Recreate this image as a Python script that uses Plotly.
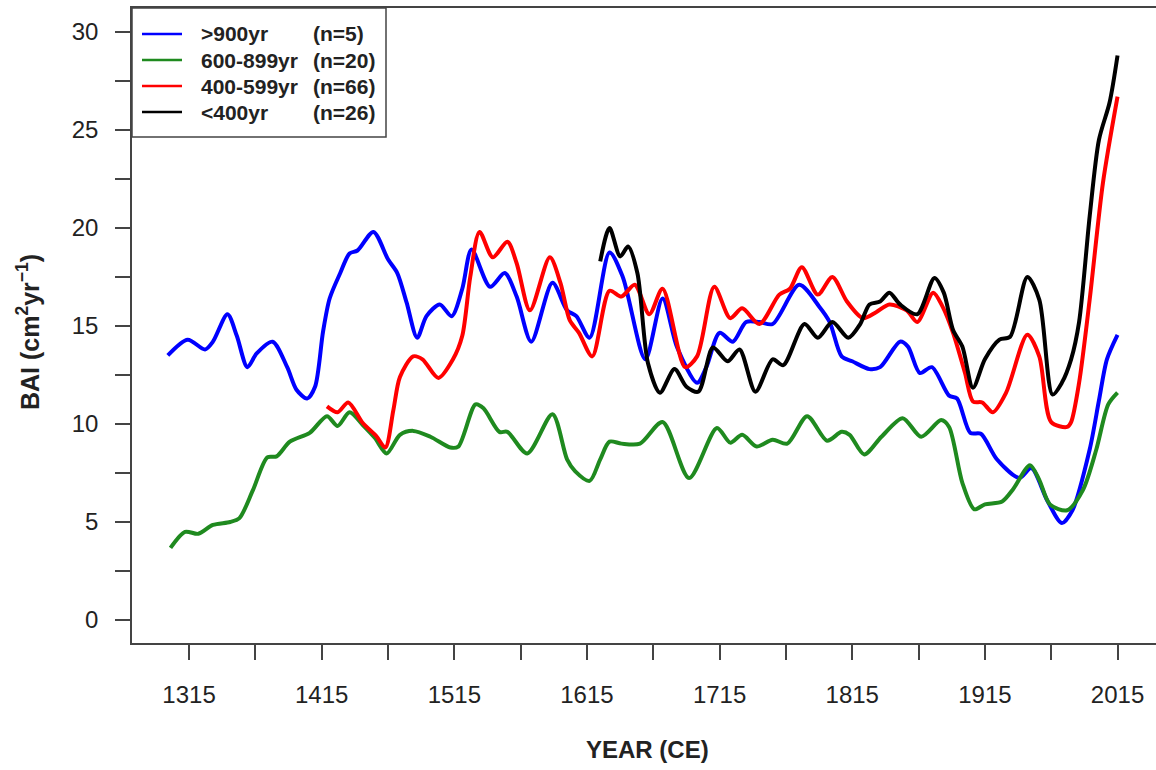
import plotly.graph_objects as go

# ---------------- data ----------------
blue_years = [1299, 1314, 1327, 1333, 1344, 1351, 1359, 1366, 1378, 1389, 1396, 1404, 1410, 1416, 1421,
              1429, 1436, 1442, 1454, 1465, 1472, 1479, 1487, 1494, 1504, 1513, 1521, 1528, 1542, 1553,
              1562, 1573, 1589, 1600, 1607, 1617, 1632, 1642, 1659, 1672, 1683, 1698, 1705, 1715, 1725,
              1735, 1745, 1755, 1775, 1790, 1798, 1807, 1815, 1828, 1836, 1851, 1857, 1866, 1875, 1888,
              1894, 1904, 1912, 1924, 1941, 1950, 1962, 1973, 1981, 1994, 2001, 2007, 2015]
blue_vals = [13.5, 14.3, 13.8, 14.2, 15.6, 14.5, 12.9, 13.6, 14.2, 12.9, 11.75, 11.3, 11.9, 14.7, 16.4,
             17.7, 18.7, 18.85, 19.8, 18.4, 17.7, 16.2, 14.4, 15.5, 16.1, 15.5, 16.9, 18.9, 17.0, 17.7,
             16.5, 14.2, 17.2, 15.8, 15.5, 14.4, 18.75, 17.5, 13.3, 16.4, 13.9, 12.1, 12.9, 14.65, 14.2,
             15.2, 15.2, 15.1, 17.1, 16.0, 15.2, 13.45, 13.2, 12.8, 12.9, 14.2, 13.95, 12.6, 12.9, 11.45,
             11.3, 9.55, 9.5, 8.2, 7.25, 7.75, 6.1, 4.95, 5.6, 8.7, 11.2, 13.3, 14.55]

green_years = [1301, 1312, 1322, 1333, 1346, 1353, 1363, 1374, 1381, 1391, 1406, 1419, 1427, 1436, 1446,
               1455, 1464, 1474, 1484, 1497, 1512, 1518, 1531, 1537, 1549, 1555, 1570, 1589, 1600, 1606,
               1617, 1625, 1632, 1641, 1655, 1672, 1692, 1713, 1723, 1732, 1743, 1755, 1766, 1781, 1796,
               1807, 1813, 1824, 1837, 1853, 1867, 1882, 1888, 1898, 1907, 1915, 1928, 1936, 1949, 1956,
               1964, 1977, 1989, 1999, 2008, 2015]
green_vals = [3.68, 4.5, 4.4, 4.85, 5.0, 5.2, 6.6, 8.3, 8.35, 9.1, 9.55, 10.4, 9.9, 10.6, 9.95,
              9.3, 8.5, 9.45, 9.65, 9.35, 8.8, 8.85, 11.0, 10.8, 9.6, 9.6, 8.5, 10.5, 8.2, 7.6,
              7.1, 8.2, 9.1, 9.0, 9.0, 10.1, 7.25, 9.8, 9.05, 9.45, 8.85, 9.2, 9.0, 10.4, 9.15,
              9.6, 9.45, 8.45, 9.35, 10.3, 9.35, 10.2, 9.85, 7.0, 5.65, 5.9, 6.05, 6.65, 7.9, 7.15,
              5.9, 5.6, 6.65, 8.7, 11.0, 11.6]

red_years = [1419, 1427, 1435, 1446, 1456, 1463, 1469, 1474, 1484, 1491, 1503, 1514, 1521, 1527, 1534,
             1544, 1555, 1562, 1572, 1587, 1595, 1602, 1609, 1619, 1632, 1641, 1651, 1662, 1672, 1689,
             1698, 1711, 1723, 1732, 1745, 1760, 1768, 1777, 1789, 1800, 1811, 1823, 1833, 1843, 1856,
             1864, 1876, 1883, 1891, 1900, 1906, 1913, 1921, 1931, 1947, 1956, 1965, 1977, 1980, 1986,
             1994, 2004, 2015]
red_vals = [10.9, 10.6, 11.1, 10.05, 9.4, 8.8, 10.7, 12.4, 13.45, 13.3, 12.35, 13.3, 14.5, 17.5, 19.8,
            18.5, 19.3, 18.2, 15.8, 18.5, 17.2, 15.3, 14.65, 13.45, 16.8, 16.5, 17.1, 15.6, 16.9, 12.9,
            13.45, 17.0, 15.4, 15.9, 15.1, 16.6, 16.9, 18.0, 16.6, 17.5, 16.25, 15.4, 15.7, 16.1, 15.8,
            15.2, 16.7, 16.0, 14.65, 12.6, 11.15, 11.1, 10.6, 11.6, 14.55, 13.45, 10.1, 9.85, 10.1, 12.1,
            16.35, 22.3, 26.7]

black_years = [1625, 1632, 1640, 1646, 1653, 1661, 1670, 1681, 1690, 1699, 1710, 1721, 1730, 1742, 1755,
               1763, 1779, 1789, 1800, 1812, 1821, 1828, 1836, 1843, 1851, 1864, 1877, 1884, 1891, 1898,
               1906, 1915, 1926, 1934, 1947, 1956, 1966, 1973, 1980, 1986, 1994, 2001, 2009, 2015]
black_vals = [18.3, 20.0, 18.55, 19.05, 17.7, 13.1, 11.6, 12.8, 11.9, 11.65, 13.9, 13.2, 13.8, 11.65, 13.3,
              13.0, 15.1, 14.4, 15.2, 14.4, 15.1, 16.1, 16.25, 16.7, 16.1, 15.6, 17.45, 16.7, 14.8, 13.95,
              11.85, 13.3, 14.3, 14.45, 17.5, 16.35, 11.5, 12.1, 13.3, 15.2, 20.6, 24.5, 26.4, 28.8]

series_names = [">900yr", "600-899yr", "400-599yr", "<400yr"]
series_n = ["(n=5)", "(n=20)", "(n=66)", "(n=26)"]
series_colors = ["#0000FF", "#1F8A1F", "#FF0000", "#000000"]

x_tick_vals = [1315, 1415, 1515, 1615, 1715, 1815, 1915, 2015]
y_tick_vals = [0, 5, 10, 15, 20, 25, 30]

# ---------------- figure ----------------
W, H = 1156, 770
L, R, T, B = 132, 0, 8, 127
PW, PH = W - L - R, H - T - B


def px(xp):
    return (xp - L) / PW


def py(yp):
    return (H - B - yp) / PH


fig = go.Figure()
all_series = [(blue_years, blue_vals), (green_years, green_vals),
              (red_years, red_vals), (black_years, black_vals)]
for (xs, ys), name, col in zip(all_series, series_names, series_colors):
    fig.add_trace(go.Scatter(x=xs, y=ys, mode="lines", name=name,
                             line=dict(color=col, width=4, shape="spline", smoothing=0.8),
                             showlegend=False))

font_family = "Liberation Sans, Arial, sans-serif"

fig.update_layout(
    width=W, height=H,
    margin=dict(l=L, r=R, t=T, b=B, pad=0),
    plot_bgcolor="white", paper_bgcolor="white",
    font=dict(family=font_family, color="#222222"),
    xaxis=dict(range=[1272, 2044], tickmode="array", tickvals=x_tick_vals,
               ticktext=[str(v) for v in x_tick_vals],
               ticks="outside", ticklen=15, tickwidth=1.5, tickcolor="#444",
               minor=dict(tickmode="linear", tick0=1265, dtick=50, ticks="outside",
                          ticklen=15, tickwidth=1.5, tickcolor="#444"),
               showline=True, linecolor="#444", linewidth=1.5, mirror=True,
               showgrid=False, zeroline=False,
               tickfont=dict(size=24, color="#222"), ticklabelstandoff=14),
    yaxis=dict(range=[-1.17, 31.22], tickmode="array", tickvals=y_tick_vals,
               ticktext=[str(v) for v in y_tick_vals],
               ticks="outside", ticklen=15, tickwidth=1.5, tickcolor="#444",
               minor=dict(tickmode="linear", tick0=0, dtick=2.5, ticks="outside",
                          ticklen=15, tickwidth=1.5, tickcolor="#444"),
               showline=True, linecolor="#444", linewidth=1.5, mirror=False,
               showgrid=False, zeroline=False,
               tickfont=dict(size=24, color="#222"), ticklabelstandoff=12),
)

# axis titles
fig.add_annotation(text="<b>YEAR (CE)</b>", xref="paper", yref="paper",
                   x=px(647), y=py(749), showarrow=False,
                   font=dict(size=24, color="#222"), xanchor="center", yanchor="middle")
fig.add_annotation(text="<b>BAI (cm<sup>2</sup>yr<sup>\u22121</sup>)</b>", xref="paper", yref="paper",
                   x=px(28), y=py(332), showarrow=False, textangle=-90,
                   font=dict(size=25, color="#222"), xanchor="center", yanchor="middle")

# legend box (manual)
fig.add_shape(type="rect", xref="paper", yref="paper",
              x0=px(132), x1=px(386), y0=py(137), y1=py(8),
              line=dict(color="#444", width=1.5), fillcolor="white", layer="above")
rows_y = [34, 60, 86, 112]
for ry, name, n, col in zip(rows_y, series_names, series_n, series_colors):
    fig.add_shape(type="line", xref="paper", yref="paper",
                  x0=px(142), x1=px(182), y0=py(ry), y1=py(ry),
                  line=dict(color=col, width=2.5), layer="above")
    fig.add_annotation(text="<b>%s</b>" % name.replace("<", "&lt;").replace(">", "&gt;"),
                       xref="paper", yref="paper", x=px(199), y=py(ry),
                       showarrow=False, xanchor="left", yanchor="middle",
                       font=dict(size=21, color="#222"))
    fig.add_annotation(text="<b>%s</b>" % n, xref="paper", yref="paper", x=px(311), y=py(ry),
                       showarrow=False, xanchor="left", yanchor="middle",
                       font=dict(size=21, color="#222"))

fig.write_html("out.html")
